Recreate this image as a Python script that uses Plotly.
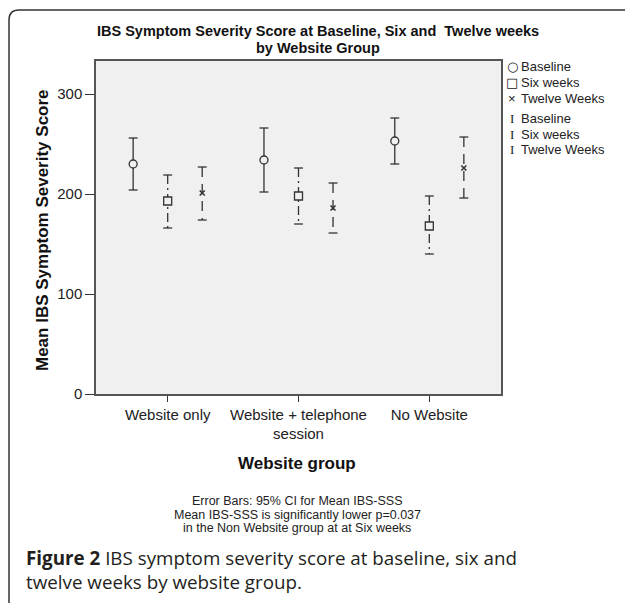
import plotly.graph_objects as go

# ---- data ----
groups = ["Website only", "Website + telephone<br>session", "No Website"]
series_names = ["Baseline", "Six weeks", "Twelve Weeks"]
baseline_mean = [230, 234, 253]
baseline_lo = [204, 202, 230]
baseline_hi = [256, 266, 276]
six_mean = [193, 198, 168]
six_lo = [166, 170, 140]
six_hi = [219, 226, 198]
twelve_mean = [201, 186, 226]
twelve_lo = [174, 161, 196]
twelve_hi = [227, 211, 257]
y_ticks = [0, 100, 200, 300]

W, H = 625, 603
L, R, T, B = 96, 124, 61, 209
pw, ph = W - L - R, H - T - B
def px(x):
    return (x - L) / pw
def py(y):
    return (H - B - y) / ph

ink = "#333333"
bg = "#f0f0f0"
offsets = [-0.264, 0.0, 0.264]
cap = 0.034
dashes = ["solid", "9px,4px,2px,4px", "10px,7px"]
symbols = ["circle", "square", "x-thin"]
msize = [8, 8, 5]
data = [
    (baseline_mean, baseline_lo, baseline_hi),
    (six_mean, six_lo, six_hi),
    (twelve_mean, twelve_lo, twelve_hi),
]

fig = go.Figure()
for k, (m, lo, hi) in enumerate(data):
    xs = [i + offsets[k] for i in range(len(groups))]
    vx, vy, cx, cy = [], [], [], []
    for x, l, h in zip(xs, lo, hi):
        vx += [x, x, None]
        vy += [h, l, None]
        cx += [x - cap, x + cap, None, x - cap, x + cap, None]
        cy += [h, h, None, l, l, None]
    fig.add_trace(go.Scatter(x=vx, y=vy, mode="lines", showlegend=False,
                             line=dict(color=ink, width=1.3, dash=dashes[k]),
                             hoverinfo="skip"))
    fig.add_trace(go.Scatter(x=cx, y=cy, mode="lines", showlegend=False,
                             line=dict(color=ink, width=1.3), hoverinfo="skip"))
    fig.add_trace(go.Scatter(x=xs, y=m, mode="markers", name=series_names[k],
                             showlegend=False,
                             marker=dict(symbol=symbols[k], size=msize[k],
                                         color=bg if k < 2 else ink,
                                         line=dict(color=ink, width=1.3 if k < 2 else 1.6))))

font_a = "Liberation Sans, Arial"
fig.update_xaxes(range=[-0.548, 2.548], tickmode="array",
                 tickvals=list(range(len(groups))), ticktext=groups,
                 ticks="outside", ticklen=6, tickcolor=ink, tickwidth=1.2,
                 showgrid=False, zeroline=False, showline=True, mirror=True,
                 linecolor="#555555", linewidth=1.5,
                 tickfont=dict(family=font_a, size=15, color="#222"))
fig.update_yaxes(range=[0, 333], tickmode="array", tickvals=y_ticks,
                 ticks="outside", ticklen=9, tickcolor=ink, tickwidth=1.2,
                 showgrid=False, zeroline=False, showline=True, mirror=True,
                 linecolor="#555555", linewidth=1.5,
                 tickfont=dict(family=font_a, size=15, color="#222"))

ann = []
def add_text(x, y, text, size, family=font_a, xanchor="center", color="#111", **kw):
    ann.append(dict(x=px(x), y=py(y), xref="paper", yref="paper", text=text,
                    showarrow=False, xanchor=xanchor, yanchor="middle",
                    font=dict(family=family, size=size, color=color), **kw))

title_lines = ["<b>IBS Symptom Severity Score at Baseline, Six and  Twelve weeks</b>",
               "<b>by Website Group</b>"]
add_text(318, 31, title_lines[0], 14.5)
add_text(318, 48, title_lines[1], 14.5)
add_text(42, 230, "<b>Mean IBS Symptom Severity Score</b>", 17, textangle=-90)
add_text(297, 463, "<b>Website group</b>", 17)
note_lines = ["Error Bars: 95% CI for Mean IBS-SSS",
              "Mean IBS-SSS is significantly lower p=0.037",
              "in the Non Website group at at Six weeks"]
for t, yy in zip(note_lines, [501, 514.5, 528]):
    add_text(297, yy, t, 12.5, color="#222")
caption = ("<b>Figure 2</b> IBS symptom severity score at baseline, six and<br>"
           "twelve weeks by website group.")
add_text(24, 570, caption, 18.8, family="Open Sans, Noto Sans", xanchor="left",
         color="#231f20", align="left")

legend_syms = ["○", "□", "×", "I", "I", "I"]
legend_fonts = ["DejaVu Sans", "DejaVu Sans", font_a,
                "Liberation Serif", "Liberation Serif", "Liberation Serif"]
legend_txt = series_names + series_names
legend_y = [66, 82, 98, 119, 134, 149]
for s, f, t, yy in zip(legend_syms, legend_fonts, legend_txt, legend_y):
    add_text(512, yy, s, 13, family=f, color="#222")
    add_text(519, yy, t, 13, xanchor="left", color="#222")

# outer rounded frame
r = 10
frame = (f"M {px(9)},{py(640)} L {px(9)},{py(10 + r)} "
         f"Q {px(9)},{py(10)} {px(9 + r)},{py(10)} L {px(640)},{py(10)}")
shapes = [dict(type="path", xref="paper", yref="paper", path=frame,
               line=dict(color="#333", width=1.5))]

fig.update_layout(width=W, height=H, margin=dict(l=L, r=R, t=T, b=B),
                  paper_bgcolor="white", plot_bgcolor=bg,
                  annotations=ann, shapes=shapes, showlegend=False)
fig.write_html("out.html", config={"displayModeBar": False},
               post_script="document.body.style.margin='0px';document.body.style.overflow='hidden';")
